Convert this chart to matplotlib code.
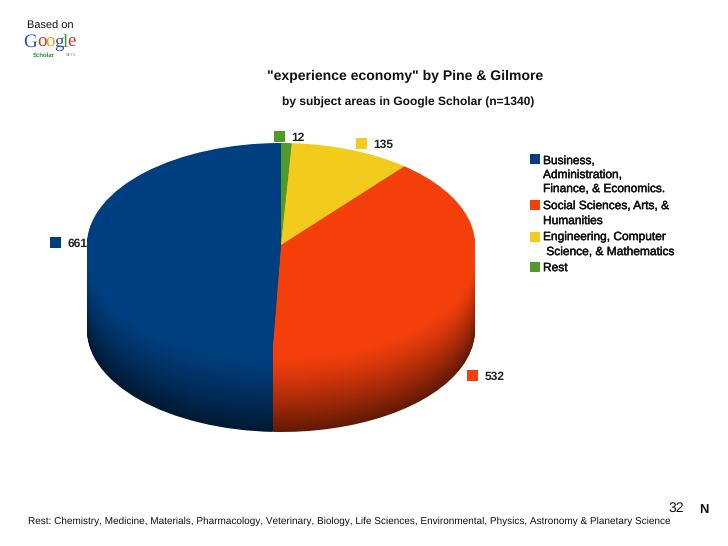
import numpy as np
import matplotlib
matplotlib.use('Agg')
import matplotlib.pyplot as plt
import matplotlib.patheffects as pe
from matplotlib.colors import to_rgb
from matplotlib.patches import Rectangle

plt.rcParams['font.family'] = ['Liberation Sans', 'DejaVu Sans']
plt.rcParams['text.hinting'] = 'none'
plt.rcParams['text.hinting_factor'] = 1

# --- Data ---
categories = ['Rest', 'Engineering', 'Social', 'Business']
values = [12, 135, 532, 661]
colors = ['#4F9A28', '#F2CB1D', '#F53F0B', '#003F7F']

legend_lines = [
    ['Business,', 'Administration,', 'Finance, & Economics.'],
    ['Social Sciences, Arts, &', 'Humanities'],
    ['Engineering, Computer', ' Science, & Mathematics'],
    ['Rest'],
]
legend_colors = ['#003F7F', '#F53F0B', '#F2CB1D', '#4F9A28']
title = '"experience economy" by Pine & Gilmore'
subtitle = 'by subject areas in Google Scholar (n=1340)'
footnote = ('Rest: Chemistry, Medicine, Materials, Pharmacology, Veterinary, Biology, '
            'Life Sciences, Environmental, Physics, Astronomy & Planetary Science')

W, H = 728, 546
fig = plt.figure(figsize=(W / 100, H / 100), dpi=100, facecolor='white')

# background axes in pixel coordinates, for all text
ax = fig.add_axes([0, 0, 1, 1])
ax.set_xlim(0, W)
ax.set_ylim(H, 0)
ax.axis('off')

# --- Pie: stacked wedges for the side, one per pixel of depth ---
CX, CY, RX, RY, DEPTH = 281, 245, 194, 102, 85
pie_top, pie_bottom = CY - RY, CY + RY + DEPTH
ax_pie = fig.add_axes([(CX - RX) / W, 1 - pie_bottom / H, 2 * RX / W, (pie_bottom - pie_top) / H])


def shade(color, k):
    return tuple(np.array(to_rgb(color)) * k)


for d in range(DEPTH, -1, -1):
    t = d / DEPTH
    k = 1 - 0.6 * np.clip((t - 0.12) / 0.88, 0, 1) ** 1.2
    ax_pie.pie(values, colors=[shade(c, k) for c in colors], startangle=90,
               counterclock=False, center=(0, -d / RY), radius=1,
               wedgeprops={'linewidth': 0})
ax_pie.set_aspect('auto')
ax_pie.set_xlim(-1, 1)
ax_pie.set_ylim(-1 - DEPTH / RY, 1)
ax_pie.axis('off')

# --- Value labels with small squares ---
label_pos = [(274, 131), (356, 138), (467, 370), (50, 237)]
for val, col, (x, y) in zip(values, colors, label_pos):
    ax.add_patch(Rectangle((x, y), 11, 11, facecolor=col, edgecolor='none'))
    ax.text(x + 17.5, y + 6.5, str(val), fontsize=8.7, fontweight='bold', color='#222222',
            va='center', ha='left')

# --- Legend ---
line_y = [[161, 175, 189], [206, 221], [237, 252], [268]]
box_y = [154, 200, 232, 262]
for lines, ys, col, by in zip(legend_lines, line_y, legend_colors, box_y):
    ax.add_patch(Rectangle((530, by), 10, 10, facecolor=col, edgecolor='none'))
    for line, y in zip(lines, ys):
        ax.text(543, y, line, fontsize=8.6, color='#111111', va='center', ha='left',
                path_effects=[pe.withStroke(linewidth=0.3, foreground='#111111')])

# --- Titles and notes ---
ax.text(405, 76, title, fontsize=10.35, fontweight='bold', ha='center', va='center', color='#111111')
ax.text(408.5, 102, subtitle, fontsize=8.95, fontweight='bold', ha='center', va='center', color='#111111')
ax.text(28, 521.5, footnote, fontsize=7.27, ha='left', va='center', color='#111111')
ax.text(676.5, 508.5, '32', fontsize=10, ha='center', va='center', color='#111111')
ax.text(703.5, 509.5, 'N', fontsize=9.5, fontweight='bold', ha='center', va='center', color='#111111')
ax.text(27, 26, 'Based on', fontsize=8, ha='left', va='center', color='#111111')

# --- Google Scholar logo, as text ---
logo_letters = ['G', 'o', 'o', 'g', 'l', 'e']
logo_colors = ['#2A52BE', '#D0342C', '#E8A90C', '#2A52BE', '#3A9A3A', '#D0342C']
logo_x = [23, 37, 45.5, 54, 62.5, 67.5]
for ch, col, x in zip(logo_letters, logo_colors, logo_x):
    ax.text(x, 42.5, ch, fontsize=14, family='Liberation Serif', color=col, ha='left', va='center')
ax.text(33, 55, 'Scholar', fontsize=4.6, fontweight='bold', color='#2E8B2E', ha='left', va='center')
ax.text(66, 55, 'BETA', fontsize=2.8, color='#888888', ha='left', va='center')

fig.savefig('out.png', dpi=100, facecolor='white')
